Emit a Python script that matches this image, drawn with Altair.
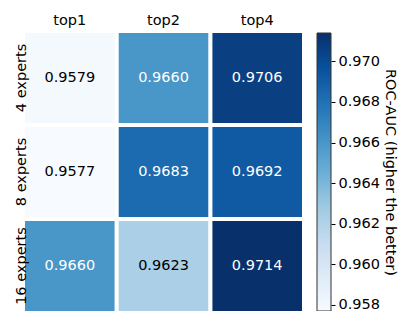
import altair as alt
import pandas as pd

cols = ["top1", "top2", "top4"]
rows = ["4 experts", "8 experts", "16 experts"]
values = [
    [0.9579, 0.9660, 0.9706],
    [0.9577, 0.9683, 0.9692],
    [0.9660, 0.9623, 0.9714],
]
cbar_ticks = [0.958, 0.960, 0.962, 0.964, 0.966, 0.968, 0.970]
cbar_title = "ROC-AUC (higher the better)"
blues = ["#f7fbff", "#deebf7", "#c6dbef", "#9ecae1", "#6baed6",
         "#4292c6", "#2171b5", "#08519c", "#08306b"]

records = [{"row": r, "col": c, "value": values[i][j]}
           for i, r in enumerate(rows) for j, c in enumerate(cols)]
df = pd.DataFrame(records)
lo = min(min(v) for v in values)
hi = max(max(v) for v in values)
n = len(blues)
dom = [lo + (hi - lo) * k / (n - 1) for k in range(n)]

font = "DejaVu Sans"
fs = 14.5
W, H = 277, 278

xscale = alt.Scale(paddingInner=0.044, paddingOuter=0)
yscale = alt.Scale(paddingInner=0.044, paddingOuter=0)

heat = alt.Chart(df).mark_rect().encode(
    x=alt.X("col:N", sort=cols, title=None, scale=xscale,
            axis=alt.Axis(orient="top", labelAngle=0, tickSize=0, tickOpacity=0,
                          domain=False, labelPadding=9, labelBaseline="alphabetic")),
    y=alt.Y("row:N", sort=rows, title=None, scale=yscale,
            axis=alt.Axis(orient="left", labelAngle=-90, tickSize=0, tickOpacity=0,
                          domain=False, labelPadding=0, labelAlign="center",
                          labelBaseline="alphabetic")),
    color=alt.Color("value:Q", scale=alt.Scale(domain=dom, range=blues), legend=None),
)

text = alt.Chart(df).mark_text(font=font, fontSize=fs).encode(
    x=alt.X("col:N", sort=cols),
    y=alt.Y("row:N", sort=rows),
    text=alt.Text("value:Q", format=".4f"),
    color=alt.condition("datum.value > 0.9645", alt.value("white"), alt.value("black")),
)

cb = pd.DataFrame([{"lo": lo, "hi": hi}])
grad = alt.Gradient(
    gradient="linear",
    stops=[alt.GradientStop(color=c, offset=k / (n - 1)) for k, c in enumerate(blues)],
    x1=0, x2=0, y1=1, y2=0,
)
bar = alt.Chart(cb).mark_rect(fill=grad, stroke="#333333", strokeWidth=1).encode(
    x=alt.value(W + 15), x2=alt.value(W + 29),
    y=alt.Y("lo:Q", scale=alt.Scale(domain=[lo, hi], nice=False, zero=False),
            axis=alt.Axis(orient="right", offset=29, values=cbar_ticks, format=".3f",
                          tickSize=4, tickColor="black", tickWidth=1, domain=False,
                          grid=False, labelPadding=3, title=cbar_title,
                          titleAngle=90, titlePadding=3)),
    y2="hi:Q",
)

chart = alt.layer(alt.layer(heat, text), bar).resolve_scale(y="independent").resolve_axis(
    y="independent"
).properties(
    width=W, height=H,
    padding={"left": 17, "top": 25, "right": 97, "bottom": 0},
    autosize=alt.AutoSizeParams(type="none"),
).configure_view(stroke=None).configure_axis(
    labelFont=font, labelFontSize=fs, labelColor="black",
    titleFont=font, titleFontSize=fs, titleColor="black", titleFontWeight="normal",
)

chart.save("out.html", embed_options={"renderer": "svg", "actions": False})
